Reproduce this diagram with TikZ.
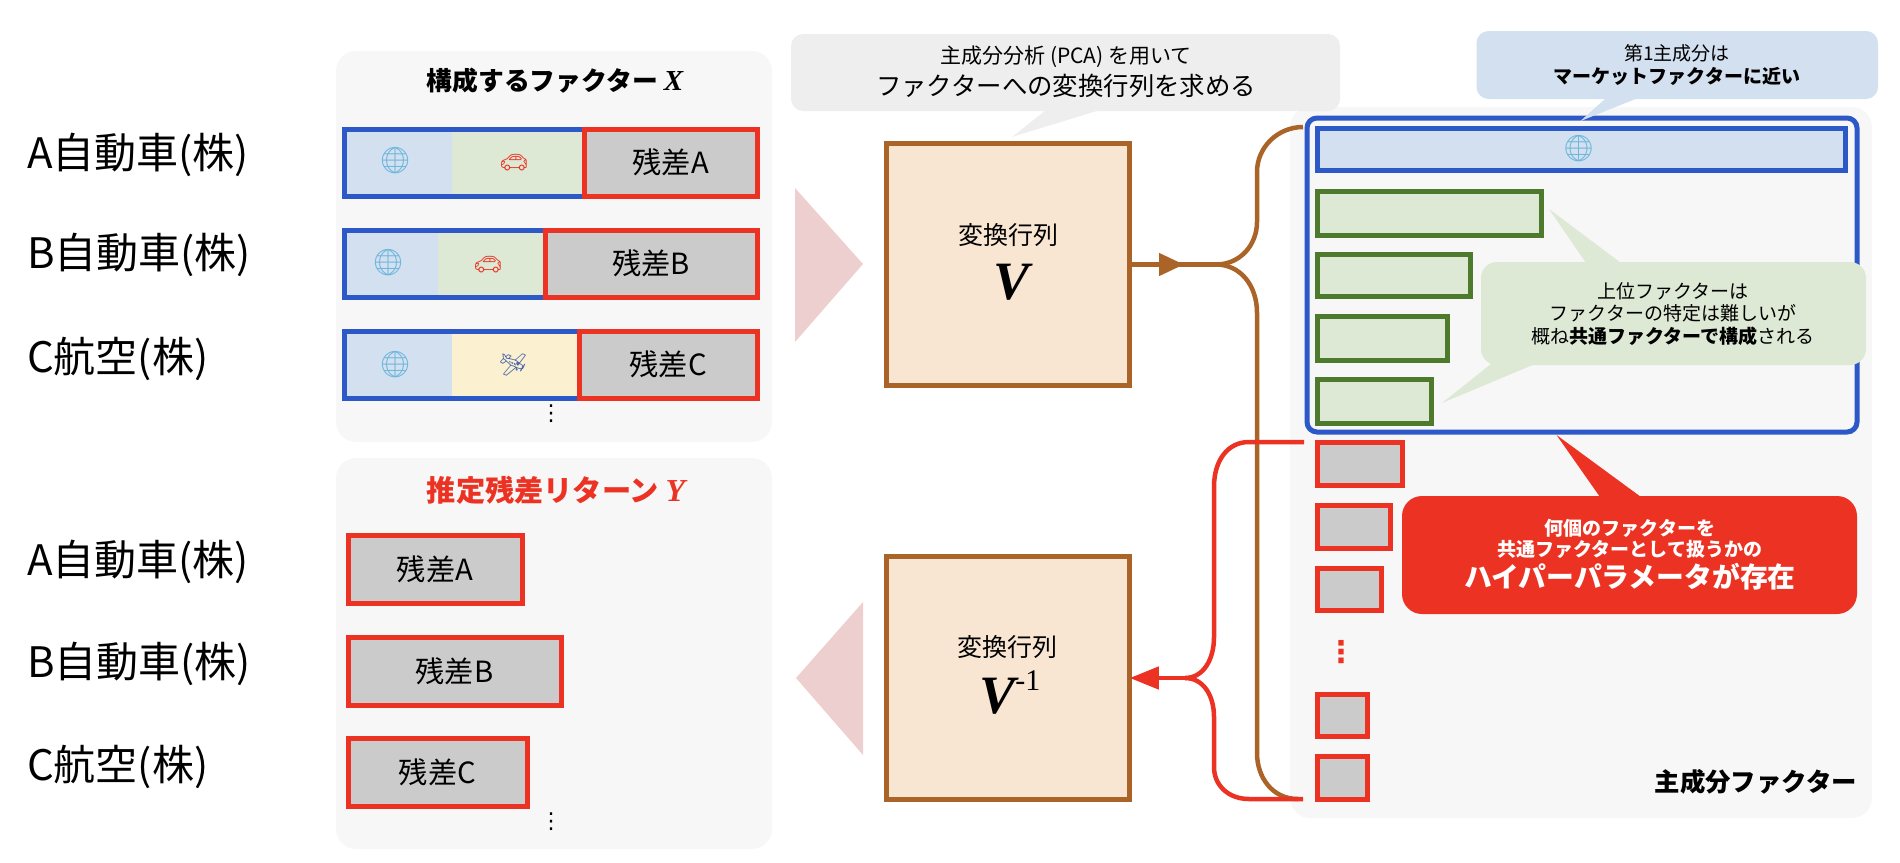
\documentclass[tikz,border=0pt]{standalone}
\usepackage{fontspec}
\setmainfont{Noto Sans CJK JP}
\newfontfamily\timesf{Liberation Serif}
\newfontfamily\emojif{Noto Emoji}
\newfontfamily\dotsf{DejaVu Sans}
\usepackage{xcolor}
\usetikzlibrary{arrows.meta}
\definecolor{panelgray}{HTML}{F7F7F7}
\definecolor{bubblegray}{HTML}{EEEEEE}
\definecolor{mktblue}{HTML}{D3E0F0}
\definecolor{frameblue}{HTML}{2D58C8}
\definecolor{indgreen}{HTML}{DDE8D5}
\definecolor{framegreen}{HTML}{4E7A2E}
\definecolor{airyellow}{HTML}{FBF1D0}
\definecolor{resgray}{HTML}{CBCBCB}
\definecolor{resred}{HTML}{EC3323}
\definecolor{matfill}{HTML}{F8E6D2}
\definecolor{matbrown}{HTML}{AA6428}
\definecolor{wedgepink}{HTML}{EECFCF}
\definecolor{globeblue}{HTML}{6FB6DC}
\newcommand{\fs}[1]{\fontsize{#1}{#1}\selectfont}
\tikzset{
  panel/.style={fill=panelgray,rounded corners=10pt},
  respart/.style={draw=resred,fill=resgray,line width=2.5pt,anchor=north west,inner sep=0pt,outer sep=0pt,font=\fs{14.6}},
  frame/.style={draw=frameblue,line width=2.5pt},
  factbar/.style={draw=framegreen,fill=indgreen,line width=2.5pt,anchor=north west,inner sep=0pt,outer sep=0pt},
  mat/.style={draw=matbrown,fill=matfill,line width=2.5pt,inner sep=0pt,outer sep=0pt,minimum width=121.75pt,minimum height=121.25pt},
  company/.style={anchor=west,font=\fs{21}},
  flow/.style={draw=matbrown,line width=2.25pt},
  resflow/.style={draw=resred,line width=2.25pt},
  emoji/.style={font=\emojif\fs{13}},
  vdots/.style={inner sep=0pt,font=\dotsf\fs{11}}
}
\begin{document}
\begin{tikzpicture}[x=0.5pt,y=-0.5pt]
\useasboundingbox (0,0) rectangle (1900,862);
% panels
\fill[panel] (336,51) rectangle (772,442);
\fill[panel] (336,458) rectangle (772,849);
\fill[panel] (1290,107) rectangle (1872,818);
% company names
\node[company] (coA) at (20,155) {A自動車(株)};
\node[company] (coB) at (20,255) {B自動車(株)};
\node[company] (coC) at (20,359) {C航空(株)};
\node[company] (coAy) at (20,562) {A自動車(株)};
\node[company] (coBy) at (20,664) {B自動車(株)};
\node[company] (coCy) at (20,767) {C航空(株)};
% factor exposures, one row per company
\node[font=\fs{12.9}\bfseries] (xtitle) at (555,81) {構成するファクター {\timesf\itshape\fs{14.5}X}};
\fill[mktblue] (344,129) rectangle (452,196);
\fill[indgreen] (452,129) rectangle (584,196);
\draw[frame] (344.5,129.5) rectangle (584,196);
\node[emoji,text=globeblue] (globeA) at (395,161) {🌐};
\node[emoji,text=resred,font=\emojif\fs{11.5}] (carA) at (514,163) {🚗};
\node[respart,minimum width=86.75pt,minimum height=33.25pt] (resA) at (584,129.5) {残差A};
\fill[mktblue] (344,230) rectangle (438,297);
\fill[indgreen] (438,230) rectangle (545,297);
\draw[frame] (344.5,230.5) rectangle (545,297);
\node[emoji,text=globeblue] (globeB) at (388,263) {🌐};
\node[emoji,text=resred,font=\emojif\fs{11.5}] (carB) at (488,265) {🚗};
\node[respart,minimum width=106.25pt,minimum height=33.25pt] (resB) at (545,230.5) {残差B};
\fill[mktblue] (344,331) rectangle (452,398);
\fill[airyellow] (452,331) rectangle (579,398);
\draw[frame] (344.5,331.5) rectangle (579,398);
\node[emoji,text=globeblue] (globeC) at (395,365) {🌐};
\node[emoji,text=frameblue!60!gray,font=\emojif\fs{11}] (planeC) at (513,365) {🛩};
\node[respart,minimum width=89.25pt,minimum height=33.25pt] (resC) at (579,331.5) {残差C};
\node[vdots] (xdots) at (551,414) {⋮};
% estimated residuals
\node[font=\fs{14.6}\bfseries,text=resred] (ytitle) at (556,490) {推定残差リターン {\timesf\itshape\fs{16}Y}};
\node[respart,minimum width=87pt,minimum height=34.25pt] (yresA) at (348,535) {残差A};
\node[respart,minimum width=106.5pt,minimum height=34pt] (yresB) at (348,637) {残差B};
\node[respart,minimum width=89.5pt,minimum height=34pt] (yresC) at (348,738) {残差C};
\node[vdots] (ydots) at (551,822) {⋮};
% wedges
\fill[wedgepink] (795,188)--(863,264)--(795,342)--cycle;
\fill[wedgepink] (863,602)--(796,678)--(863,755)--cycle;
% transform matrices
\node[mat] (vmat) at (1008,264.5) {};
\node[font=\fs{12.5}] (vname) at (1008,235) {変換行列};
\node[font=\timesf\bfseries\itshape\fs{27}] (vsym) at (1011,282) {V};
\node[mat] (vinv) at (1008,678) {};
\node[font=\fs{12.5}] (vinvname) at (1007,647) {変換行列};
\node[anchor=base west,inner sep=0pt,font=\timesf\fs{15}] (vinvsym) at (979,713) {{\bfseries\itshape\fs{27}V}\raisebox{11.5pt}{-1}};
% speech bubbles over the matrices
\fill[bubblegray] (1046,110)--(1012,137)--(1100,110)--cycle;
\node[fill=bubblegray,rounded corners=6pt,inner sep=0pt,minimum width=274.5pt,minimum height=38.5pt] (pcanote) at (1065.5,72.5) {};
\node[font=\fs{10.5}] (pcaone) at (1066,57) {主成分分析 (PCA) を用いて};
\node[font=\fs{12.7}] (pcatwo) at (1066,86) {ファクターへの変換行列を求める};
% principal component bars
\draw[frame,rounded corners=5pt] (1307,118) rectangle (1857,432);
\node[draw=frameblue,fill=mktblue,line width=2.5pt,anchor=north west,inner sep=0pt,outer sep=0pt,minimum width=264.25pt,minimum height=21.25pt] (pc1) at (1317,128) {};
\node[emoji,text=globeblue] (globepc) at (1578.5,149) {🌐};
\node[factbar,minimum width=112pt,minimum height=22pt] (pc2) at (1317,191) {};
\node[factbar,minimum width=76.75pt,minimum height=21.25pt] (pc3) at (1317,254) {};
\node[factbar,minimum width=65pt,minimum height=22pt] (pc4) at (1317,316) {};
\node[factbar,minimum width=57pt,minimum height=22pt] (pc5) at (1317,379) {};
\node[respart,minimum width=42.5pt,minimum height=21.75pt] (pc6) at (1317,442) {};
\node[respart,minimum width=36.5pt,minimum height=21.75pt] (pc7) at (1317,505) {};
\node[respart,minimum width=32pt,minimum height=21.25pt] (pc8) at (1317,568) {};
\node[vdots,text=resred,font=\dotsf\bfseries\fs{15}] (pcdots) at (1341,652) {⋮};
\node[respart,minimum width=25pt,minimum height=21.25pt] (pc9) at (1317,694) {};
\node[respart,minimum width=25pt,minimum height=21.75pt] (pc10) at (1317,756) {};
\node[anchor=east,font=\fs{12.7}\bfseries] (pcname) at (1864,782) {主成分ファクター};
% market note
\fill[mktblue] (1606,98)--(1580.5,121)--(1638,98)--cycle;
\node[fill=mktblue,rounded corners=6pt,inner sep=0pt,minimum width=200.75pt,minimum height=34pt] (mktnote) at (1677.25,65) {};
\node[font=\fs{9.5}] (mktone) at (1677,53) {第1主成分は};
\node[font=\fs{9.5}\bfseries] (mkttwo) at (1677,76) {マーケットファクターに近い};
% upper factor note
\fill[indgreen] (1586,263)--(1549,209)--(1621,263)--cycle;
\fill[indgreen] (1491,364)--(1442,403)--(1535,364)--cycle;
\node[fill=indgreen,rounded corners=8pt,inner sep=0pt,minimum width=192.5pt,minimum height=51.5pt] (upnote) at (1673.5,313.5) {};
\node[font=\fs{9.5}] (upone) at (1673,291) {上位ファクターは};
\node[font=\fs{9.5}] (uptwo) at (1673,313) {ファクターの特定は難しいが};
\node[font=\fs{9.5}] (upthree) at (1673,336) {概ね{\bfseries 共通ファクターで構成}される};
% hyperparameter note
\fill[resred] (1600,497)--(1556.5,435)--(1641,497)--cycle;
\node[fill=resred,rounded corners=10pt,inner sep=0pt,minimum width=227.5pt,minimum height=59pt] (hypnote) at (1629.5,555) {};
\node[font=\fs{9.5}\bfseries,text=white] (hypone) at (1630,528) {何個のファクターを};
\node[font=\fs{9.5}\bfseries,text=white] (hyptwo) at (1630,549) {共通ファクターとして扱うかの};
\node[font=\fs{13.9}\bfseries,text=white] (hypthree) at (1630,577) {ハイパーパラメータが存在};
% connectors
\coordinate (vfork) at (1216,264.5);
\coordinate (vtop) at (1303,127);
\coordinate (vbot) at (1298,799);
\coordinate (rtop) at (1304,442);
\coordinate (rbot) at (1303,799);
\coordinate (rfork) at (1185,678);
\draw[flow] (vmat.east) -- (vfork);
\draw[flow,-{Triangle[length=12.5pt,width=11pt]}] (vmat.east) -- (1184,264.5);
\draw[flow] (vfork) .. controls (1240,264.5) and (1257,245) .. (1257,222) -- (1257,172) .. controls (1257,147) and (1278,127) .. (vtop);
\draw[flow] (vfork) .. controls (1240,264.5) and (1257,285) .. (1257,313) -- (1257,753) .. controls (1257,777) and (1272,799) .. (vbot);
\draw[resflow] (rtop) -- (1249,442) .. controls (1228,442) and (1214,460) .. (1214,487) -- (1214,637) .. controls (1214,660) and (1203,678) .. (rfork);
\draw[resflow] (rbot) -- (1249,799) .. controls (1228,799) and (1214,785) .. (1214,767) -- (1214,717) .. controls (1214,695) and (1203,678) .. (rfork);
\draw[resflow,-{Triangle[length=14.5pt,width=11pt]}] (rfork) -- (vinv.east);
\end{tikzpicture}
\end{document}
